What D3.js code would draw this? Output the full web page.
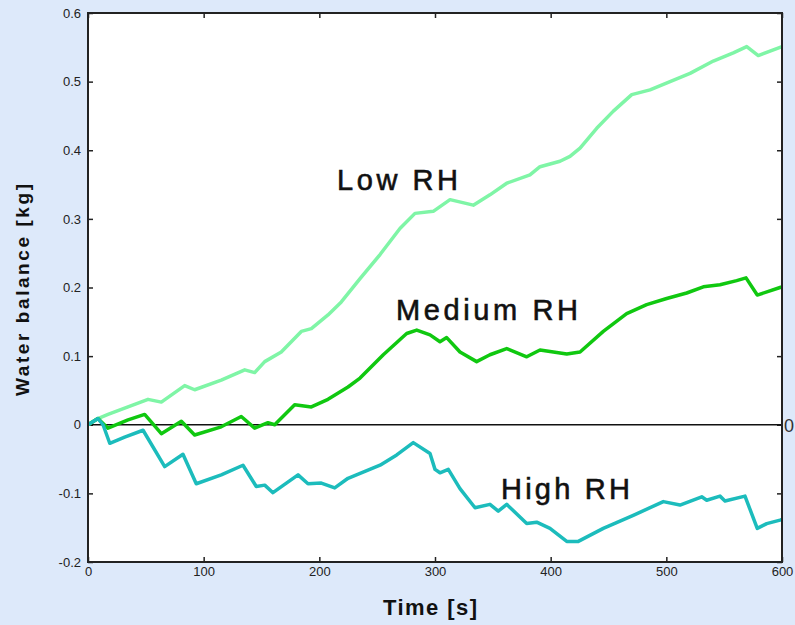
<!DOCTYPE html>
<html>
<head>
<meta charset="utf-8">
<script src="https://cdn.jsdelivr.net/npm/d3@7"></script>
<style>
  body { margin: 0; background: #dde9fa; }
  svg { display: block; }
</style>
</head>
<body>
<svg id="chart"></svg>
<script>
const width = 795;
const height = 625;
const margin = { top: 13, right: 13, bottom: 64, left: 88 };

// time [s] and water balance [kg] for each run
const lowTime = [0, 8.6, 17.3, 34.6, 51.9, 63.4, 83.6, 92.2, 115.2, 135.5, 144.1, 152.8, 167.1, 184.4, 193.1, 207.5, 219, 235.2, 252.5, 269.7, 282.7, 298.5, 313, 333.1, 347.5, 362, 382.1, 390.8, 408.1, 416.7, 425.4, 439.8, 454.2, 470.1, 485.9, 503.2, 520.5, 540.6, 557.9, 569.5, 579.5, 598.3, 600];
const lowValue = [0, 0.009, 0.015, 0.026, 0.037, 0.033, 0.057, 0.051, 0.065, 0.080, 0.076, 0.092, 0.106, 0.136, 0.140, 0.160, 0.179, 0.213, 0.248, 0.286, 0.308, 0.311, 0.328, 0.320, 0.335, 0.352, 0.364, 0.376, 0.384, 0.391, 0.403, 0.432, 0.457, 0.481, 0.488, 0.500, 0.512, 0.530, 0.542, 0.551, 0.538, 0.550, 0.551];

const mediumTime = [0, 8.6, 17.3, 34.6, 49, 63.4, 80.7, 92.2, 115.2, 132.5, 144.1, 155.6, 161.4, 178.7, 193.1, 207.5, 224.8, 235.2, 255.3, 275.5, 284.2, 295.7, 304.3, 310.1, 321.6, 336, 347.5, 362, 379.3, 390.8, 413.9, 425.4, 445.5, 465.7, 483, 500.3, 517.6, 532, 546.4, 560.8, 568.9, 578.6, 598.3, 600];
const mediumValue = [0, 0.009, -0.005, 0.007, 0.015, -0.013, 0.005, -0.015, -0.003, 0.012, -0.005, 0.003, 0.000, 0.029, 0.026, 0.037, 0.055, 0.068, 0.102, 0.133, 0.138, 0.131, 0.121, 0.127, 0.106, 0.092, 0.102, 0.111, 0.099, 0.109, 0.103, 0.106, 0.136, 0.162, 0.175, 0.184, 0.192, 0.201, 0.204, 0.210, 0.214, 0.189, 0.200, 0.201];

const highTime = [0, 8.6, 13, 18.8, 31.7, 47.6, 66.3, 82.1, 93.6, 115.2, 134, 145.5, 152.8, 159.9, 181.6, 190.2, 201.7, 213.3, 224.8, 252.5, 266.9, 281.2, 295.7, 300, 304.3, 311.5, 321.6, 334.6, 347.5, 354.7, 362, 379.3, 387.9, 399.4, 413.9, 423.9, 445.5, 471.4, 497.4, 511.8, 530.6, 534.9, 546.4, 550.7, 568, 578.6, 586.8, 598.3, 600];
const highValue = [0, 0.009, 0.000, -0.027, -0.018, -0.008, -0.061, -0.043, -0.086, -0.073, -0.059, -0.090, -0.088, -0.099, -0.073, -0.086, -0.085, -0.092, -0.078, -0.059, -0.044, -0.026, -0.042, -0.065, -0.070, -0.065, -0.093, -0.121, -0.116, -0.126, -0.116, -0.144, -0.142, -0.151, -0.170, -0.170, -0.151, -0.132, -0.112, -0.117, -0.105, -0.110, -0.104, -0.111, -0.104, -0.151, -0.144, -0.139, -0.138];

const xTicks = [0, 100, 200, 300, 400, 500, 600];
const yTicks = [-0.2, -0.1, 0, 0.1, 0.2, 0.3, 0.4, 0.5, 0.6];

const series = [
    { name: "Low RH", time: lowTime, value: lowValue, color: "#7ff5a6", label: [337, 458, 190] },
    { name: "Medium RH", time: mediumTime, value: mediumValue, color: "#10c810", label: [396, 578, 320] },
    { name: "High RH", time: highTime, value: highValue, color: "#1cbcbc", label: [501, 630, 499] }
];

const svg = d3.select("#chart")
    .attr("width", width)
    .attr("height", height);

svg.append("rect")
    .attr("width", width)
    .attr("height", height)
    .attr("fill", "#dde9fa");

const x = d3.scaleLinear().domain([0, 600]).range([margin.left, width - margin.right]);
const y = d3.scaleLinear().domain([-0.2, 0.6]).range([height - margin.bottom + 1, margin.top]);

svg.append("rect")
    .attr("x", x(0))
    .attr("y", y(0.6))
    .attr("width", x(600) - x(0))
    .attr("height", y(-0.2) - y(0.6))
    .attr("fill", "white");

const yFormat = d => d === 0 ? "0" : d.toFixed(1);

function styleAxis(g) {
    g.select(".domain").remove();
    g.selectAll(".tick line").attr("stroke", "#222").attr("stroke-width", 1.5);
    g.selectAll(".tick text")
        .attr("fill", "#222")
        .attr("font-family", "Arial, Helvetica, sans-serif")
        .attr("font-size", 13);
}

svg.append("g")
    .attr("transform", "translate(" + x(0) + ",0)")
    .call(d3.axisLeft(y).tickValues(yTicks).tickFormat(yFormat).tickSize(-5).tickPadding(7))
    .call(styleAxis);

svg.append("g")
    .attr("transform", "translate(" + x(600) + ",0)")
    .call(d3.axisRight(y).tickValues(yTicks).tickFormat("").tickSize(-5))
    .call(styleAxis);

svg.append("g")
    .attr("transform", "translate(0," + y(-0.2) + ")")
    .call(d3.axisBottom(x).tickValues(xTicks).tickFormat(d3.format("d")).tickSize(-5).tickPadding(5))
    .call(styleAxis);

svg.append("g")
    .attr("transform", "translate(0," + y(0.6) + ")")
    .call(d3.axisTop(x).tickValues(xTicks).tickFormat("").tickSize(-5))
    .call(styleAxis);

// zero line
svg.append("line")
    .attr("x1", x(0))
    .attr("x2", x(600))
    .attr("y1", y(0))
    .attr("y2", y(0))
    .attr("stroke", "#111")
    .attr("stroke-width", 1.5);

const line = d3.line()
    .x(d => x(d[0]))
    .y(d => y(d[1]));

svg.append("g")
    .selectAll("path")
    .data(series).enter()
    .append("path")
    .attr("d", s => line(d3.zip(s.time, s.value)))
    .attr("fill", "none")
    .attr("stroke", s => s.color)
    .attr("stroke-width", 3.5)
    .attr("stroke-linejoin", "round");

// frame
svg.append("rect")
    .attr("x", x(0))
    .attr("y", y(0.6))
    .attr("width", x(600) - x(0))
    .attr("height", y(-0.2) - y(0.6))
    .attr("fill", "none")
    .attr("stroke", "#222")
    .attr("stroke-width", 2);

svg.append("g")
    .selectAll("text")
    .data(series).enter()
    .append("text")
    .attr("x", s => s.label[0])
    .attr("y", s => s.label[2])
    .attr("textLength", s => s.label[1] - s.label[0])
    .attr("lengthAdjust", "spacing")
    .attr("font-family", "Arial, Helvetica, sans-serif")
    .attr("font-size", 29)
    .attr("fill", "#111")
    .attr("stroke", "#111")
    .attr("stroke-width", 0.6)
    .text(s => s.name);

svg.append("text")
    .attr("x", 784)
    .attr("y", y(0) + 7)
    .attr("font-family", "Arial, Helvetica, sans-serif")
    .attr("font-size", 18)
    .attr("fill", "#333")
    .text("0");

svg.append("text")
    .attr("x", 383)
    .attr("y", 615)
    .attr("textLength", 94)
    .attr("lengthAdjust", "spacing")
    .attr("font-family", "Arial, Helvetica, sans-serif")
    .attr("font-weight", "bold")
    .attr("font-size", 22)
    .attr("fill", "#111")
    .text("Time [s]");

svg.append("text")
    .attr("transform", "translate(29,290) rotate(-90)")
    .attr("text-anchor", "middle")
    .attr("textLength", 212)
    .attr("lengthAdjust", "spacing")
    .attr("font-family", "Arial, Helvetica, sans-serif")
    .attr("font-weight", "bold")
    .attr("font-size", 19)
    .attr("fill", "#111")
    .text("Water balance [kg]");
</script>
</body>
</html>
